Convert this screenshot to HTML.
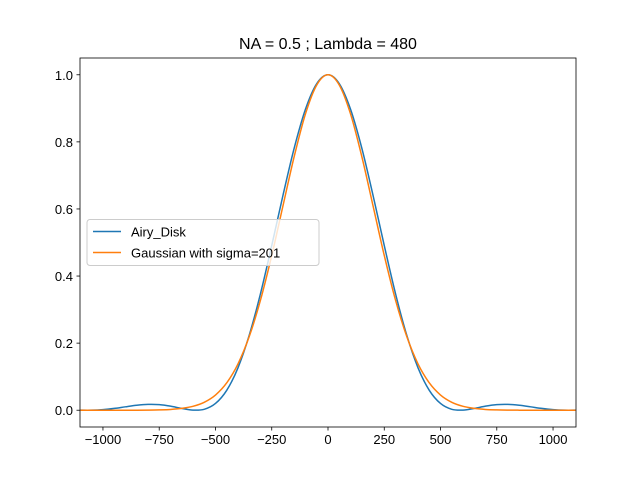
<!DOCTYPE html>
<html><head><meta charset="utf-8"><style>
body{margin:0;background:#fff}
svg text{font-family:"Liberation Sans","DejaVu Sans",sans-serif;fill:#000}
</style></head><body>
<svg id="chart" width="640" height="480" viewBox="0 0 640 480" xmlns="http://www.w3.org/2000/svg">
<rect width="640" height="480" fill="#fff"/>
<text x="328" y="49" font-size="16" text-anchor="middle">NA = 0.5 ; Lambda = 480</text>
<g id="plot"></g>
</svg>
<script>
const radii = [0,50,100,150,200,250,300,350,400,450,500,550,600,650,700,750,800,850,900,950,1000,1050,1100];
const airyValues = [1,0.9736,0.8976,0.7819,0.6409,0.4909,0.3476,0.2236,0.1265,0.0594,0.0201,0.0028,0.0004,0.0054,0.0121,0.0166,0.0173,0.0147,0.0102,0.0054,0.0019,0.0002,0.0002];
const gaussValues = [1,0.9695,0.8836,0.7569,0.6096,0.4614,0.3283,0.2196,0.1380,0.0816,0.0453,0.0237,0.0116,0.0054,0.0023,0.0010,0.0004,0.0001,0.0000,0.0000,0.0000,0.0000,0.0000];
const xTicks = [-1000,-750,-500,-250,0,250,500,750,1000];
const yTicks = [0,0.2,0.4,0.6,0.8,1.0];
const yTickLabels = ["0.0","0.2","0.4","0.6","0.8","1.0"];
const seriesNames = ["Airy_Disk","Gaussian with sigma=201"];

const L=80,R=576,T=58,B=427;
const xmin=-1102,xmax=1102,ymin=-0.05,ymax=1.05;
const sx=v=>L+(v-xmin)/(xmax-xmin)*(R-L);
const sy=v=>B-(v-ymin)/(ymax-ymin)*(B-T);
const NS="http://www.w3.org/2000/svg";
const g=document.getElementById('plot');
function mk(tag,attrs){const e=document.createElementNS(NS,tag);for(const k in attrs)e.setAttribute(k,attrs[k]);g.appendChild(e);return e;}

function symPts(vals){
  const pts=[];
  for(let i=radii.length-1;i>0;i--)pts.push([-radii[i],vals[i]]);
  for(let i=0;i<radii.length;i++)pts.push([radii[i],vals[i]]);
  return pts.map(p=>[sx(p[0]),sy(p[1])]);
}
function smooth(p){
  let d=`M${p[0][0]},${p[0][1]}`;
  for(let i=0;i<p.length-1;i++){
    const p0=p[i-1]||p[i],p1=p[i],p2=p[i+1],p3=p[i+2]||p2;
    const c1=[p1[0]+(p2[0]-p0[0])/6,p1[1]+(p2[1]-p0[1])/6];
    const c2=[p2[0]-(p3[0]-p1[0])/6,p2[1]-(p3[1]-p1[1])/6];
    d+=`C${c1[0]},${c1[1]} ${c2[0]},${c2[1]} ${p2[0]},${p2[1]}`;
  }
  return d;
}
const cp=mk('clipPath',{id:'clip'});
const cr=document.createElementNS(NS,'rect');cr.setAttribute('x',L);cr.setAttribute('y',T);cr.setAttribute('width',R-L);cr.setAttribute('height',B-T);cp.appendChild(cr);

const airy=mk('path',{d:smooth(symPts(airyValues)),fill:'none',stroke:'#1f77b4','stroke-width':1.5,'clip-path':'url(#clip)'});


const gauss=mk('path',{d:smooth(symPts(gaussValues)),fill:'none',stroke:'#ff7f0e','stroke-width':1.5,'clip-path':'url(#clip)'});



const frame=mk('rect',{x:L,y:T,width:R-L,height:B-T,fill:'none',stroke:'#000','stroke-width':0.8});



xTicks.forEach(v=>{
  const x=sx(v);
  mk('line',{x1:x,x2:x,y1:B,y2:B+3.5,stroke:'#000','stroke-width':0.8});
  const t=mk('text',{x:x,y:B+17,'font-size':13,'text-anchor':'middle'});
  t.textContent=(v<0?'\u2212'+(-v):''+v);
  
  
});
yTicks.forEach((v,i)=>{
  const y=sy(v);
  mk('line',{x1:L-3.5,x2:L,y1:y,y2:y,stroke:'#000','stroke-width':0.8});
  const t=mk('text',{x:L-7,y:y+5,'font-size':13,'text-anchor':'end'});
  t.textContent=yTickLabels[i];
  
  
});

const lg=mk('rect',{x:87,y:219.5,width:232,height:46,rx:3,fill:'#fff','fill-opacity':0.8,stroke:'#ccc','stroke-width':1});


const colors=['#1f77b4','#ff7f0e'];
seriesNames.forEach((n,i)=>{
  const y=231.5+i*21;
  mk('line',{x1:93,x2:121,y1:y,y2:y,stroke:colors[i],'stroke-width':1.5});
  const t=mk('text',{x:131,y:y+5,'font-size':13});
  t.textContent=n;
  
  
});
</script>
</body></html>
